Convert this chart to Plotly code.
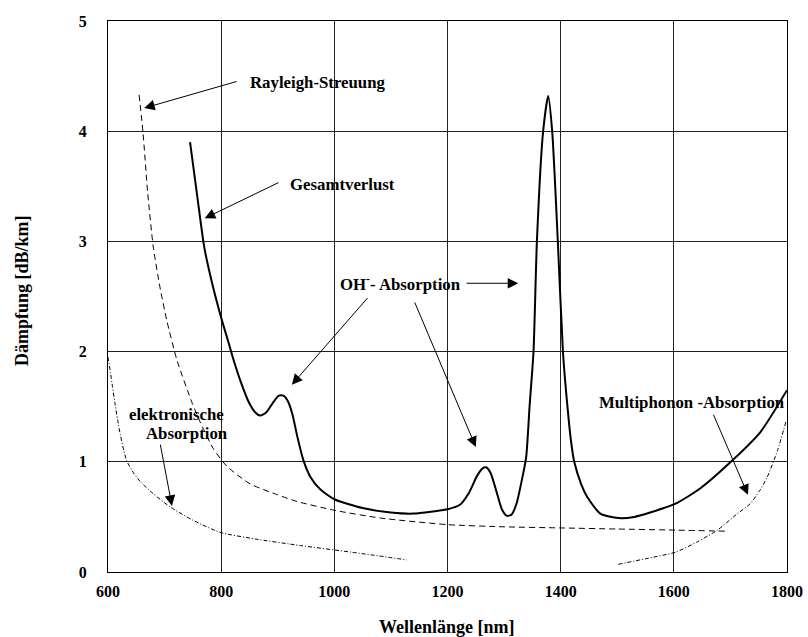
import plotly.graph_objects as go

# --- data ---
total_x = [745, 758, 770, 785, 801, 812, 821, 835, 848, 860, 869, 880, 892, 902, 910, 918, 926, 935, 945, 958,
           975, 1000, 1050, 1100, 1140, 1200, 1222, 1238, 1252, 1262, 1268, 1276, 1286, 1296, 1305, 1313, 1322,
           1330, 1339, 1345, 1352, 1358, 1369, 1378, 1385, 1395, 1404, 1412, 1418, 1424, 1436, 1447, 1470,
           1502, 1530, 1558, 1603, 1647, 1705, 1753, 1800]
total_y = [3.90, 3.40, 2.95, 2.60, 2.29, 2.10, 1.94, 1.72, 1.55, 1.45, 1.42, 1.45, 1.54, 1.60, 1.60, 1.55, 1.43,
           1.22, 1.02, 0.86, 0.75, 0.66, 0.58, 0.54, 0.53, 0.57, 0.61, 0.72, 0.87, 0.94, 0.95, 0.90, 0.74,
           0.57, 0.51, 0.52, 0.62, 0.80, 1.04, 1.50, 2.00, 3.00, 4.00, 4.32, 4.00, 3.00, 2.00, 1.50, 1.20,
           1.00, 0.80, 0.68, 0.53, 0.49, 0.50, 0.54, 0.62, 0.76, 1.02, 1.27, 1.65]

rayleigh_x = [655, 662, 670, 680, 692, 704, 722, 749, 763, 786, 810, 851, 900, 934, 1000, 1081, 1200, 1300,
              1400, 1500, 1603, 1695]
rayleigh_y = [4.33, 3.98, 3.45, 2.95, 2.58, 2.28, 1.92, 1.53, 1.36, 1.12, 0.96, 0.80, 0.70, 0.64, 0.56, 0.49,
              0.43, 0.41, 0.40, 0.39, 0.38, 0.37]

elec_x = [600, 604, 608, 612, 617, 622, 628, 633, 645, 657, 680, 710, 750, 798, 860, 940, 1030, 1128]
elec_y = [1.95, 1.82, 1.68, 1.54, 1.38, 1.24, 1.10, 1.01, 0.90, 0.82, 0.71, 0.59, 0.47, 0.36, 0.30, 0.24, 0.18, 0.11]

multi_x = [1502, 1550, 1603, 1640, 1677, 1710, 1735, 1752, 1765, 1783, 1799]
multi_y = [0.07, 0.12, 0.18, 0.27, 0.38, 0.52, 0.62, 0.74, 0.86, 1.10, 1.38]

x_ticks = [600, 800, 1000, 1200, 1400, 1600, 1800]
y_ticks = [0, 1, 2, 3, 4, 5]

FONT = "'Liberation Serif', 'Times New Roman', Times, serif"

W, H = 808, 637
ML, MR, MT, MB = 108, 21, 21, 65

fig = go.Figure()
fig.add_trace(go.Scatter(x=rayleigh_x, y=rayleigh_y, mode="lines",
                         line=dict(color="black", width=1, dash="6px,4px", shape="spline", smoothing=0.6)))
fig.add_trace(go.Scatter(x=elec_x, y=elec_y, mode="lines",
                         line=dict(color="black", width=1, dash="4px,2px,1px,2px", shape="spline", smoothing=0.6)))
fig.add_trace(go.Scatter(x=multi_x, y=multi_y, mode="lines",
                         line=dict(color="black", width=1, dash="4px,2px,1px,2px", shape="spline", smoothing=0.6)))
fig.add_trace(go.Scatter(x=total_x, y=total_y, mode="lines",
                         line=dict(color="black", width=2, shape="spline", smoothing=0.6)))

afont = dict(family=FONT, size=16.8, color="black")

# arrows: (head_x, head_y, tail_x, tail_y)
arrows = [
    (664, 4.21, 830, 4.455),
    (771, 3.21, 904, 3.54),
    (925, 1.70, 1061, 2.50),
    (1325, 2.62, 1231, 2.62),
    (1250, 1.134, 1141, 2.46),
    (713, 0.60, 692, 1.17),
    (1731, 0.70, 1669, 1.44),
]
for hx, hy, tx, ty in arrows:
    fig.add_annotation(x=hx, y=hy, ax=tx, ay=ty, axref="x", ayref="y", xref="x", yref="y",
                       text="", showarrow=True, arrowhead=2, arrowsize=2.1, arrowwidth=1,
                       arrowcolor="black", standoff=0, startstandoff=0)

labels = [
    ("Rayleigh-Streuung", 847, 4.446),
    ("Gesamtverlust", 918, 3.52),
    ("OH<sup>-</sup>- Absorption", 1006, 2.62),
    ("elektronische", 634, 1.425),
    ("Absorption", 664, 1.26),
    ("Multiphonon -Absorption", 1464, 1.534),
]
for t, x, y in labels:
    fig.add_annotation(x=x, y=y, xref="x", yref="y", text="<b>" + t + "</b>", showarrow=False,
                       xanchor="left", yanchor="middle", font=afont)

# axis titles placed in paper coordinates
fig.add_annotation(x=(447 - ML) / (W - ML - MR), y=-(627 - (H - MB)) / (H - MT - MB),
                   xref="paper", yref="paper", text="<b>Wellenlänge [nm]</b>", showarrow=False,
                   xanchor="center", yanchor="middle", font=dict(family=FONT, size=18, color="black"))
fig.add_annotation(x=-(ML - 22) / (W - ML - MR), y=((H - MB) - 291) / (H - MT - MB),
                   xref="paper", yref="paper", text="<b>Dämpfung [dB/km]</b>", showarrow=False,
                   textangle=-90, xanchor="center", yanchor="middle",
                   font=dict(family=FONT, size=18, color="black"))

axis_common = dict(showline=True, linecolor="black", linewidth=1, mirror=True,
                   showgrid=True, gridcolor="#222222", gridwidth=1, zeroline=False, automargin=False,
                   ticks="", tickfont=dict(family=FONT, size=16, color="black"))

fig.update_xaxes(range=[600, 1800], tickvals=x_ticks, ticktext=["<b>%d</b>" % v for v in x_ticks],
                 ticklabelstandoff=5, **axis_common)
fig.update_yaxes(range=[0, 5], tickvals=y_ticks, ticktext=["<b>%d</b>" % v for v in y_ticks],
                 ticklabelstandoff=17, **axis_common)

fig.update_layout(width=W, height=H, margin=dict(l=ML, r=MR, t=MT, b=MB),
                  paper_bgcolor="white", plot_bgcolor="white", showlegend=False,
                  font=dict(family=FONT))

fig.write_html("out.html")
